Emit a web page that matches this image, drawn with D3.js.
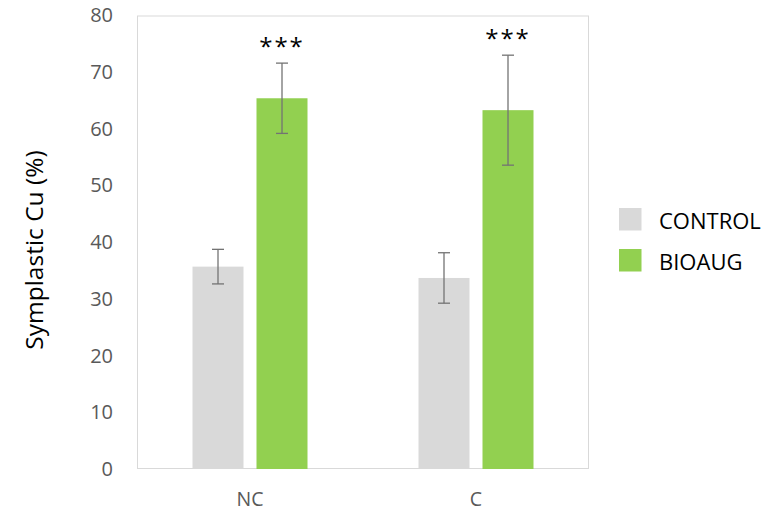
<!DOCTYPE html>
<html>
<head>
<meta charset="utf-8">
<script src="https://cdn.jsdelivr.net/npm/d3@7"></script>
<style>
  html, body { margin: 0; padding: 0; background: #fff; }
  svg { display: block; font-family: "Open Sans", sans-serif; }
</style>
</head>
<body>
<svg id="chart" width="769" height="517"></svg>
<script>
// ---- data ----
const categories = ["NC", "C"];
const seriesNames = ["CONTROL", "BIOAUG"];
const controlValues = [35.7, 33.7];
const controlErrors = [3.05, 4.45];
const bioaugValues = [65.4, 63.3];
const bioaugErrors = [6.2, 9.7];
const significance = ["***", "***"];
const yTicks = [0, 10, 20, 30, 40, 50, 60, 70, 80];
const yTitle = "Symplastic Cu (%)";

const colors = { CONTROL: "#d9d9d9", BIOAUG: "#92d050" };

const svg = d3.select("#chart");
const plot = { left: 137, right: 589, top: 15.5, bottom: 469 };

const y = d3.scaleLinear().domain([0, 80]).range([plot.bottom, plot.top]);
const x0 = d3.scaleBand().domain(categories).range([plot.left, plot.right]).padding(0);
const x1 = d3.scaleBand().domain(seriesNames).range([-57.5, 57.5]).paddingInner(13 / 64);

const rows = [];
categories.forEach((c, i) => {
  rows.push({ cat: c, series: "CONTROL", value: controlValues[i], err: controlErrors[i], sig: null });
  rows.push({ cat: c, series: "BIOAUG", value: bioaugValues[i], err: bioaugErrors[i], sig: significance[i] });
});
const cx = d => x0(d.cat) + x0.bandwidth() / 2 + x1(d.series) + x1.bandwidth() / 2;

// frame
svg.append("rect")
  .attr("x", plot.left + 0.5).attr("y", plot.top + 0.5)
  .attr("width", plot.right - plot.left - 1).attr("height", plot.bottom - plot.top - 1)
  .attr("fill", "none").attr("stroke", "#d9d9d9").attr("stroke-width", 1);

// bars
svg.append("g").selectAll("rect").data(rows).join("rect")
  .attr("x", d => x0(d.cat) + x0.bandwidth() / 2 + x1(d.series))
  .attr("width", x1.bandwidth())
  .attr("y", d => y(d.value))
  .attr("height", d => y(0) - y(d.value))
  .attr("fill", d => colors[d.series]);

// error bars
const eb = svg.append("g").attr("stroke", "#737373").attr("stroke-width", 1.3).attr("fill", "none");
rows.forEach(d => {
  const xc = cx(d);
  eb.append("line").attr("x1", xc).attr("x2", xc).attr("y1", y(d.value + d.err)).attr("y2", y(d.value - d.err));
  eb.append("line").attr("x1", xc - 6).attr("x2", xc + 6).attr("y1", y(d.value + d.err)).attr("y2", y(d.value + d.err));
  eb.append("line").attr("x1", xc - 6).attr("x2", xc + 6).attr("y1", y(d.value - d.err)).attr("y2", y(d.value - d.err));
});

// significance stars
svg.append("g").selectAll("text").data(rows.filter(d => d.sig)).join("text")
  .attr("x", d => cx(d))
  .attr("y", d => y(d.value + d.err) - 8.5)
  .attr("text-anchor", "middle")
  .attr("font-size", 24)
  .attr("letter-spacing", 2)
  .attr("fill", "#000")
  .text(d => d.sig);

// y axis (labels only)
const yAxis = d3.axisLeft(y).tickValues(yTicks).tickSize(0).tickPadding(0);
const gy = svg.append("g").attr("transform", "translate(113,0)").call(yAxis);
gy.select(".domain").remove();
gy.selectAll("text").attr("font-size", 20).attr("fill", "#595959")
  .attr("font-family", "'Open Sans', sans-serif");

// x axis (labels only)
const xAxis = d3.axisBottom(x0).tickSize(0).tickPadding(0);
const gx = svg.append("g").attr("transform", "translate(0,492)").call(xAxis);
gx.select(".domain").remove();
gx.selectAll("text").attr("font-size", 19.5).attr("fill", "#595959")
  .attr("font-family", "'Open Sans', sans-serif");

// y title
svg.append("text")
  .attr("transform", "translate(43,250) rotate(-90)")
  .attr("text-anchor", "middle")
  .attr("font-size", 24.5)
  .attr("fill", "#000")
  .text(yTitle);

// legend
const lg = svg.append("g").selectAll("g").data(seriesNames).join("g")
  .attr("transform", (d, i) => `translate(619,${208 + i * 41})`);
lg.append("rect").attr("width", 22.5).attr("height", 22.5).attr("fill", d => colors[d]);
lg.append("text").attr("x", 40).attr("y", 20.5)
  .attr("font-size", 22).attr("fill", "#000").text(d => d);
</script>
</body>
</html>
